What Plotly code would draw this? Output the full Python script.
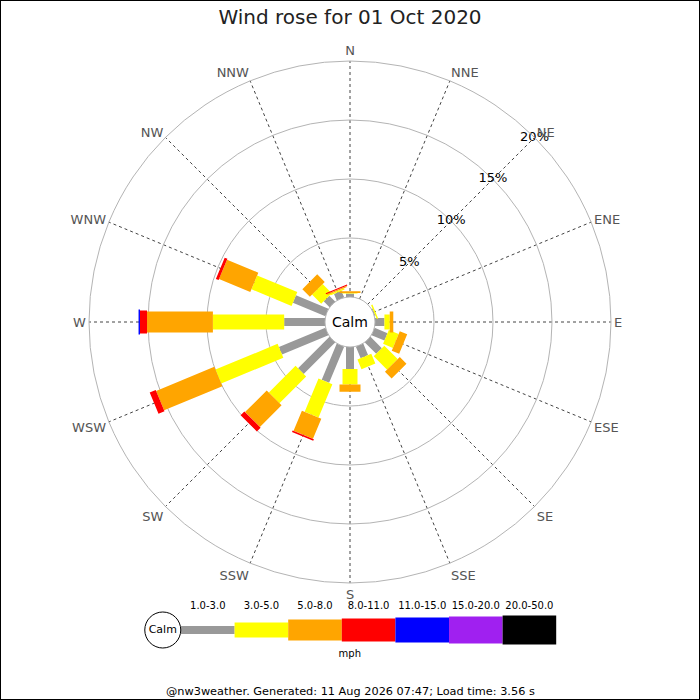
import math
import plotly.graph_objects as go

# compass sectors (degrees clockwise from north)
directions = ["N", "NNE", "NE", "ENE", "E", "ESE", "SE", "SSE",
              "S", "SSW", "SW", "WSW", "W", "WNW", "NW", "NNW"]
angles = [i * 22.5 for i in range(16)]

speed_bands = ["1.0-3.0", "3.0-5.0", "5.0-8.0", "8.0-11.0",
               "11.0-15.0", "15.0-20.0", "20.0-50.0"]
band_colors = ["#999999", "#ffff00", "#ffa500", "#ff0000",
               "#0000ff", "#a020f0", "#000000"]

# percent of time per direction, one list per speed band
pct_1_3 = [0.30, 0, 0, 0.08, 0.80, 1.18, 1.36, 1.06,
           1.87, 3.32, 3.77, 4.26, 3.46, 2.98, 0.70, 0.60]
pct_3_5 = [0.04, 0, 0, 0.12, 0.45, 0.90, 1.60, 0.90,
           1.30, 3.06, 3.20, 5.70, 6.04, 3.68, 1.10, 0.12]
pct_5_8 = [0.15, 0, 0, 0, 0.30, 0.68, 0.80, 0,
           0.63, 1.85, 2.60, 5.34, 5.58, 2.87, 0.90, 0.10]
pct_8_11 = [0, 0, 0, 0, 0, 0, 0, 0,
            0, 0.15, 0.45, 0.55, 0.60, 0.25, 0, 0.10]
pct_11_15 = [0, 0, 0, 0, 0, 0, 0, 0,
             0, 0, 0, 0, 0.12, 0, 0, 0]
pct_15_20 = [0] * 16
pct_20_50 = [0] * 16
band_values = [pct_1_3, pct_3_5, pct_5_8, pct_8_11, pct_11_15, pct_15_20, pct_20_50]

ring_ticks = [5, 10, 15, 20]
ring_labels = ["5%", "10%", "15%", "20%"]

title_text = "Wind rose for 01 Oct 2020"
footer_text = "@nw3weather. Generated: 11 Aug 2026 07:47; Load time: 3.56 s"

# geometry of the rose
W = H = 700
CX, CY = 350, 322
R_PX = 261
HOLE_PX = 25
RMAX = 20
K = (R_PX - HOLE_PX) / RMAX
bar_px = [8, 15, 21, 23, 25, 27, 29]


def rect(theta, r0, r1, width):
    # constant-width bar between two radii, in polar data coords
    d0 = HOLE_PX + r0 * K
    d1 = HOLE_PX + r1 * K
    rs, ts = [], []
    for d, p in [(d0, -width / 2), (d1, -width / 2), (d1, width / 2), (d0, width / 2), (d0, -width / 2)]:
        rs.append((math.hypot(d, p) - HOLE_PX) / K)
        ts.append(theta + math.degrees(math.atan2(p, d)))
    return rs, ts


fig = go.Figure()

cum = [0.0] * 16
for b, vals in enumerate(band_values):
    rr, tt = [], []
    for i, v in enumerate(vals):
        if v > 0:
            r, t = rect(angles[i], cum[i], cum[i] + v, bar_px[b])
            rr += r + [None]
            tt += t + [None]
            cum[i] += v
    if rr:
        fig.add_trace(go.Scatterpolar(
            r=rr, theta=tt, mode="lines", fill="toself",
            fillcolor=band_colors[b], line=dict(width=0, color=band_colors[b]),
            hoverinfo="skip", showlegend=False))

fig.add_trace(go.Scatterpolar(
    r=ring_ticks, theta=[45] * len(ring_ticks), mode="text", text=ring_labels,
    textfont=dict(size=13, color="black"), hoverinfo="skip", showlegend=False))

# legend strip along the bottom
seg_x = [i + 0.5 for i in range(len(speed_bands))]
fig.add_trace(go.Bar(
    x=seg_x, y=bar_px, base=[-h / 2 for h in bar_px], width=1,
    marker=dict(color=band_colors, line=dict(width=0)),
    xaxis="x", yaxis="y", hoverinfo="skip", showlegend=False))
fig.add_trace(go.Scatter(
    x=seg_x, y=[24] * len(seg_x), mode="text", text=speed_bands,
    textfont=dict(size=10, color="black"), xaxis="x", yaxis="y",
    hoverinfo="skip", showlegend=False))
fig.add_trace(go.Scatter(
    x=[-0.34], y=[0], mode="markers+text", text=["Calm"],
    marker=dict(symbol="circle", size=36, color="white", line=dict(color="black", width=1)),
    textfont=dict(size=11, color="black"), xaxis="x", yaxis="y",
    hoverinfo="skip", showlegend=False))
fig.add_trace(go.Scatter(
    x=[3.15], y=[-24], mode="text", text=["mph"],
    textfont=dict(size=10, color="black"), xaxis="x", yaxis="y",
    hoverinfo="skip", showlegend=False))

fig.update_layout(
    width=W, height=H,
    margin=dict(l=0, r=0, t=0, b=0),
    paper_bgcolor="white", plot_bgcolor="white",
    font=dict(family="DejaVu Sans", color="black"),
    title=dict(text=title_text, x=0.5, xanchor="center", y=1 - 17 / H, yanchor="middle",
               font=dict(size=20, color="#222222")),
    polar=dict(
        domain=dict(x=[(CX - R_PX) / W, (CX + R_PX) / W],
                    y=[(H - CY - R_PX) / H, (H - CY + R_PX) / H]),
        hole=HOLE_PX / R_PX,
        bgcolor="white",
        radialaxis=dict(range=[0, RMAX], tickvals=[0] + ring_ticks, showticklabels=False,
                        ticks="", showline=False, gridcolor="#b4b4b4", gridwidth=1),
        angularaxis=dict(rotation=90, direction="clockwise", tickmode="array",
                         tickvals=angles, ticktext=directions, ticks="",
                         tickfont=dict(size=13, color="#555555"),
                         showline=True, linecolor="#b4b4b4", linewidth=1,
                         gridcolor="#444444", griddash="dot", gridwidth=1),
    ),
    xaxis=dict(domain=[130 / W, 590 / W], range=[(130 - 181) / 53.6, (590 - 181) / 53.6],
               visible=False, fixedrange=True),
    yaxis=dict(domain=[(H - 660) / H, (H - 600) / H], range=[-30, 30],
               visible=False, fixedrange=True),
    annotations=[
        dict(text="Calm", x=CX / W, y=(H - CY) / H, xref="paper", yref="paper",
             showarrow=False, font=dict(size=14, color="black")),
        dict(text=footer_text, x=0.5, y=(H - 691) / H, xref="paper", yref="paper",
             showarrow=False, yanchor="middle", font=dict(size=11.3, color="black")),
    ],
    shapes=[dict(type="rect", xref="paper", yref="paper", x0=0, y0=0, x1=1, y1=1,
                 line=dict(color="black", width=2))],
)

# the page body has a default 8px margin; drop it so the figure sits at 0,0
fig.write_html("out.html", config={"displayModeBar": False},
               post_script="document.body.style.margin='0';")
